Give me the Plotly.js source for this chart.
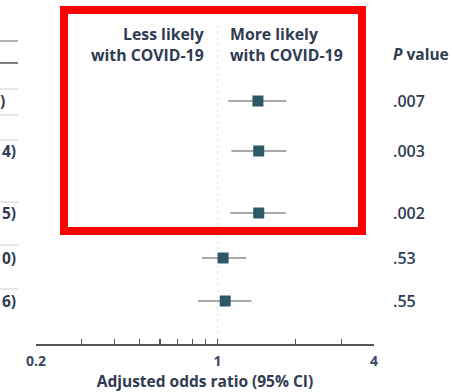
<!DOCTYPE html>
<html>
<head>
<meta charset="utf-8">
<script src="https://cdn.plot.ly/plotly-3.0.1.min.js"></script>
<style>
html,body{margin:0;padding:0;background:#fff;}
#chart{width:452px;height:392px;}
</style>
</head>
<body>
<div id="chart"></div>
<script>
// ---- data ----
const oddsRatio = [1.43, 1.44, 1.44, 1.05, 1.07];
const ciLow     = [1.10, 1.13, 1.12, 0.87, 0.84];
const ciHigh    = [1.84, 1.84, 1.83, 1.29, 1.35];
const pValues   = ['.007', '.003', '.002', '.53', '.55'];
const tailText  = [')', '4)', '5)', '0)', '6)'];
const headerLess = ['Less likely', 'with COVID-19'];
const headerMore = ['More likely', 'with COVID-19'];
const tickVals  = [0.2, 0.3, 0.4, 0.5, 0.6, 0.7, 0.8, 0.9, 1, 2, 3, 4];
const tickText  = ['0.2', '', '', '', '', '', '', '', '1', '', '', '4'];

// ---- layout constants (pixels) ----
const W = 452, H = 392;
const ML = 36, MR = 78, MT = 0, MB = 48;
const PW = W - ML - MR, PH = H - MT - MB;
const rowPos = [101, 151, 213, 258, 301];
const headerY = 44;
const px = v => (v - ML) / PW;
const py = v => (PH - v) / PH;

const FONT = 'Open Sans, Roboto, sans-serif';
const TXT = '#2f3b52';
const FS = 15.5;

const trace = {
  type: 'scatter', mode: 'markers',
  x: oddsRatio, y: rowPos,
  marker: {symbol: 'square', size: 11, color: '#2d5866', line: {width: 0}},
  error_x: {
    type: 'data', symmetric: false,
    array: oddsRatio.map((v, i) => ciHigh[i] - v),
    arrayminus: oddsRatio.map((v, i) => v - ciLow[i]),
    color: '#8c8c8c', thickness: 1.6, width: 0
  },
  hoverinfo: 'skip', showlegend: false
};

const shapes = [];
// reference line at OR = 1
shapes.push({type: 'line', xref: 'x', yref: 'paper', x0: 1, x1: 1, y0: py(25), y1: 0,
  line: {color: '#e4e4e4', width: 1, dash: 'dot'}, layer: 'below'});
// left table rule fragments
const ruleY = [41, 63, 89, 115, 140, 202, 245, 289];
const ruleC = ['#9a9a9a', '#555555', '#d0d0d0', '#d0d0d0', '#d0d0d0', '#d0d0d0', '#d0d0d0', '#d0d0d0'];
const ruleW = [1.5, 1.5, 1, 1, 1, 1, 1, 1];
ruleY.forEach((y, i) => shapes.push({type: 'line', xref: 'paper', yref: 'paper',
  x0: px(0), x1: px(18), y0: py(y), y1: py(y), line: {color: ruleC[i], width: ruleW[i]}}));
// red highlight box
shapes.push({type: 'rect', xref: 'paper', yref: 'paper',
  x0: px(64), x1: px(362), y0: py(231), y1: py(10),
  line: {color: '#ff0000', width: 8}, fillcolor: 'rgba(0,0,0,0)'});

const annotations = [];
const hdr = {family: FONT, size: 15.8, color: TXT, weight: 700};
annotations.push({xref: 'paper', yref: 'paper', x: px(206), y: py(headerY), xanchor: 'right', yanchor: 'middle',
  text: headerLess.join('<br>'), align: 'right', showarrow: false, font: hdr});
annotations.push({xref: 'paper', yref: 'paper', x: px(228), y: py(headerY), xanchor: 'left', yanchor: 'middle',
  text: headerMore.join('<br>'), align: 'left', showarrow: false, font: hdr});
annotations.push({xref: 'paper', yref: 'paper', x: px(391), y: py(54), xanchor: 'left', yanchor: 'middle',
  text: '<i>P</i> value', showarrow: false, font: {family: FONT, size: FS, color: TXT, weight: 700}});
pValues.forEach((p, i) => annotations.push({xref: 'paper', yref: 'paper', x: px(391), y: py(rowPos[i]),
  xanchor: 'left', yanchor: 'middle', text: p, showarrow: false,
  font: {family: FONT, size: 16, color: TXT, weight: 600}}));
const tailRight = [7, 18, 18, 18, 18];
tailText.forEach((t, i) => annotations.push({xref: 'paper', yref: 'paper', x: px(tailRight[i]), y: py(rowPos[i]),
  xanchor: 'right', yanchor: 'middle', text: t, showarrow: false,
  font: {family: FONT, size: FS, color: TXT, weight: 700}}));

const layout = {
  width: W, height: H,
  margin: {l: ML, r: MR, t: MT, b: MB, pad: 0},
  paper_bgcolor: '#fff', plot_bgcolor: '#fff',
  font: {family: FONT, color: TXT},
  xaxis: {
    type: 'log', range: [Math.log10(0.2), Math.log10(4)],
    tickvals: tickVals, ticktext: tickText,
    ticks: 'inside', ticklen: 5, tickwidth: 1.2, tickcolor: '#555',
    showline: true, linecolor: '#555', linewidth: 1.5,
    showgrid: false, zeroline: false,
    tickfont: {family: FONT, size: 14, color: '#3a4866', weight: 700},
    ticklabelstandoff: 4,
    title: {text: 'Adjusted odds ratio (95% CI)', standoff: 5,
      font: {family: FONT, size: FS, color: TXT, weight: 700}}
  },
  yaxis: {range: [PH, 0], visible: false, showgrid: false, zeroline: false, fixedrange: true},
  shapes: shapes,
  annotations: annotations,
  showlegend: false
};

Plotly.newPlot('chart', [trace], layout, {displayModeBar: false, staticPlot: true});
</script>
</body>
</html>
